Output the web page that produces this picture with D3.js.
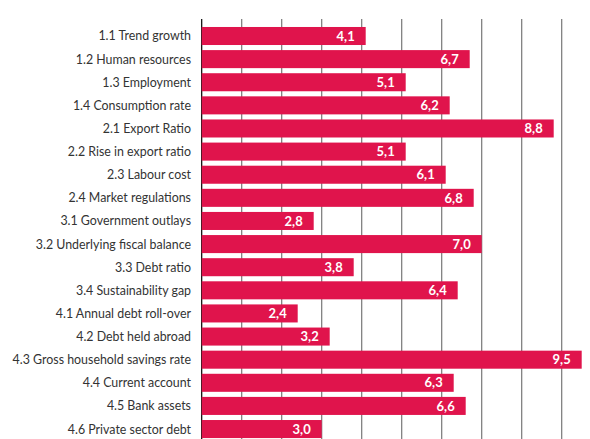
<!DOCTYPE html>
<html><head><meta charset="utf-8">
<script src="https://cdn.jsdelivr.net/npm/d3@7"></script>
<style>body{margin:0;background:#fff}svg{display:block}</style>
</head><body>
<svg id="c" width="590" height="439"></svg>
<script>
const categories = ["1.1 Trend growth","1.2 Human resources","1.3 Employment","1.4 Consumption rate","2.1 Export Ratio","2.2 Rise in export ratio","2.3 Labour cost","2.4 Market regulations","3.1 Government outlays","3.2 Underlying fiscal balance","3.3 Debt ratio","3.4 Sustainability gap","4.1 Annual debt roll-over","4.2 Debt held abroad","4.3 Gross household savings rate","4.4 Current account","4.5 Bank assets","4.6 Private sector debt"];
const values = [4.1,6.7,5.1,6.2,8.8,5.1,6.1,6.8,2.8,7.0,3.8,6.4,2.4,3.2,9.5,6.3,6.6,3.0];
const gridTicks = [0,1,2,3,4,5,6,7,8,9];

(function(){
const svg = d3.select("#c");
const x = d3.scaleLinear().domain([0,9]).range([201.7,561.7]);
const step = 23.12, y0 = 24.44;
const y = d3.scaleBand().domain(categories).range([y0, y0+18*step]).paddingInner(0.22).paddingOuter(0.11);

svg.append("g").selectAll("line").data(gridTicks).join("line")
  .attr("x1",d=>x(d)).attr("x2",d=>x(d)).attr("y1",19).attr("y2",439)
  .attr("stroke",d=>d===0?"#000":"#777").attr("stroke-width",1.2);

svg.append("g").selectAll("rect").data(values).join("rect")
  .attr("x",x(0)).attr("y",(d,i)=>y(categories[i]))
  .attr("width",d=>x(d)-x(0)).attr("height",y.bandwidth())
  .attr("fill","#E0144C");

svg.append("g").selectAll("text").data(values).join("text")
  .attr("x",d=>x(d)-11).attr("y",(d,i)=>y(categories[i])+y.bandwidth()/2)
  .attr("dy","0.36em").attr("text-anchor","end")
  .attr("fill","#fff").attr("font-family","Lato, sans-serif").attr("font-weight","bold").attr("font-size","13px")
  .text(d=>d.toFixed(1).replace(".",","));

svg.append("g").selectAll("text").data(categories).join("text")
  .attr("x",191).attr("y",d=>y(d)+y.bandwidth()/2)
  .attr("dy","0.36em").attr("text-anchor","end")
  .attr("fill","#333").attr("font-family","Lato, sans-serif").attr("font-size","12.4px")
  .text(d=>d);
})();
</script>
</body></html>
